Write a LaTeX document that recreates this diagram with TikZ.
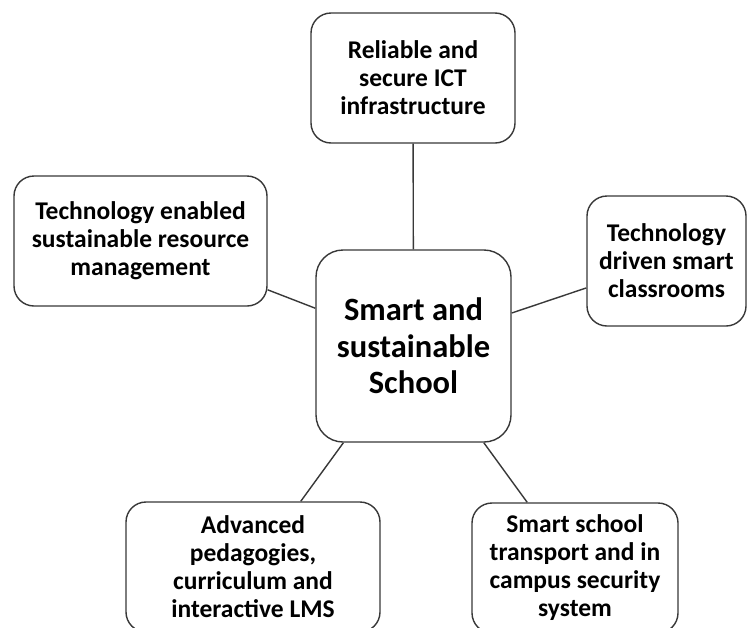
\documentclass[tikz,border=0pt]{standalone}
\usepackage{fontspec}
\setmainfont{Carlito}
\begin{document}
\begin{tikzpicture}[x=1pt,y=-1pt,
  box/.style={draw=black!78, line width=1.4pt, rounded corners=20pt, fill=white,
    align=center, inner sep=0pt, font=\fontsize{25.5}{28}\selectfont\bfseries, minimum height=130pt},
  hub/.style={box, rounded corners=27pt, font=\fontsize{32.5}{36.5}\selectfont\bfseries},
  link/.style={draw=black!78, line width=1.4pt}]
\clip (0,0) rectangle (747,627);
\fill[white] (0,0) rectangle (747,627);
\node[hub, minimum width=195pt, minimum height=192pt] (c) at (413.5,346) {Smart and\\sustainable\\School};
\node[box, minimum width=204pt] (t) at (413,78) {Reliable and\\secure ICT\\infrastructure};
\node[box, minimum width=253pt] (l) at (140.5,241) {Technology enabled\\sustainable resource\\management};
\node[box, minimum width=159pt] (r) at (666.5,261) {Technology\\driven smart\\classrooms};
\node[box, minimum width=254pt] (bl) at (253,567) {Advanced\\pedagogies,\\curriculum and\\interactive LMS};
\node[box, minimum width=206pt] (br) at (575,568) {Smart school\\transport and in\\campus security\\system};
\draw[link] (t) -- (c);
\draw[link] (l) -- (c);
\draw[link] (r) -- (c);
\draw[link] (bl) -- (c);
\draw[link] (br) -- (c);
\end{tikzpicture}
\end{document}
